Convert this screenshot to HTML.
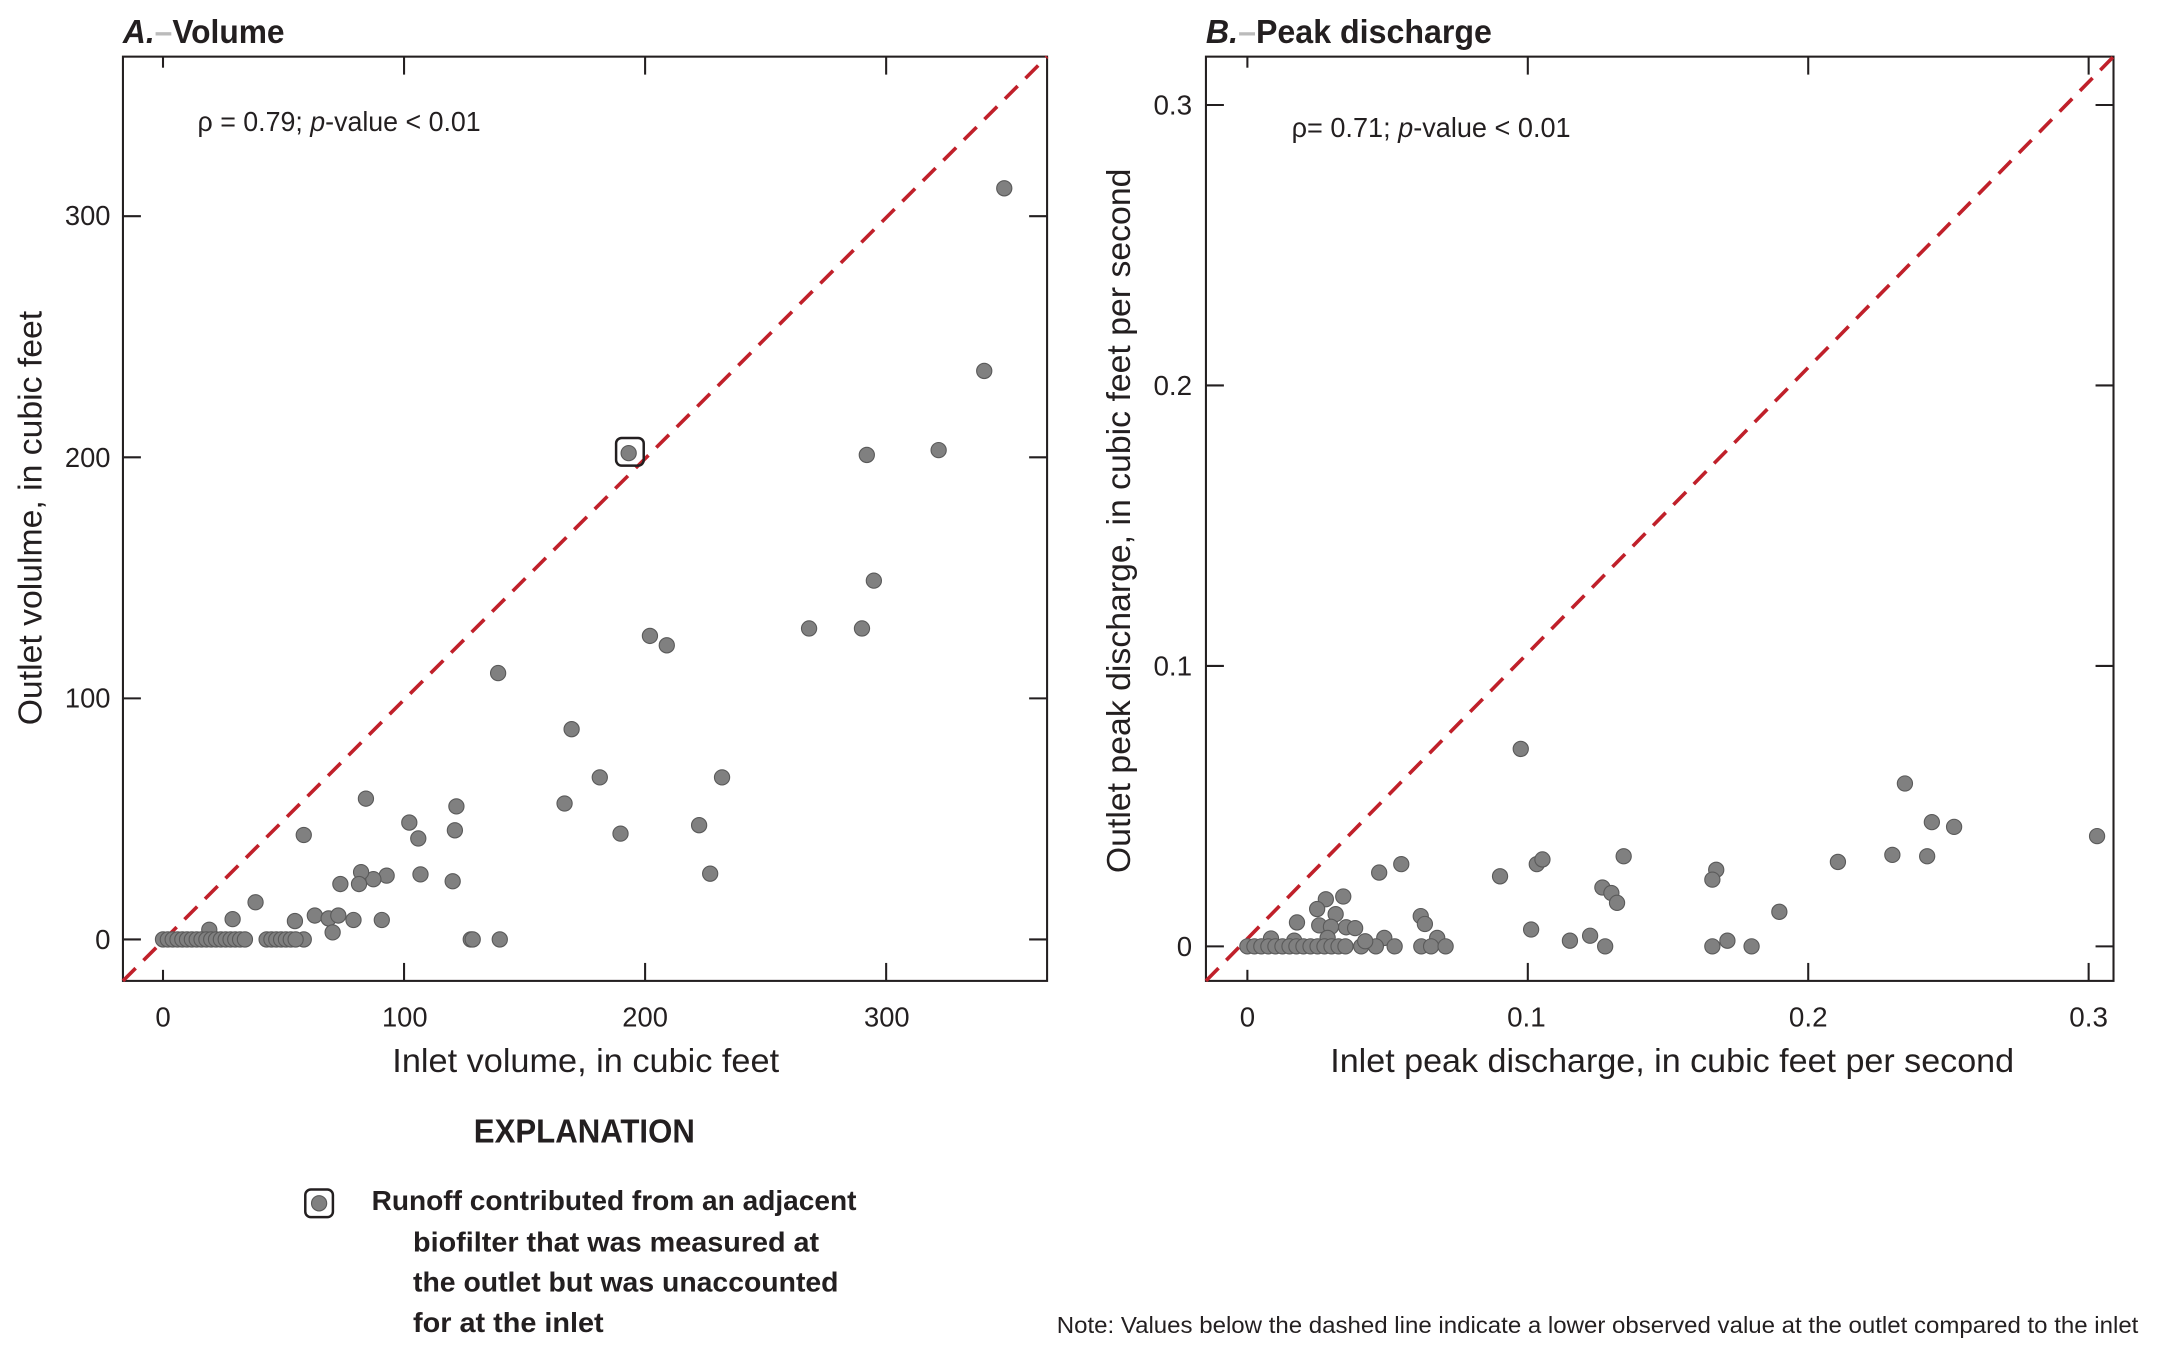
<!DOCTYPE html>
<html><head><meta charset="utf-8"><style>
html,body{margin:0;padding:0;background:#fff}
svg{display:block}
text{font-family:"Liberation Sans",sans-serif;fill:#231f20}
.t{font-size:20px}
.ax{font-size:24px}
.b{font-weight:bold}
</style></head><body>
<svg id="s" width="2166" height="1347" viewBox="0 0 1568 975" preserveAspectRatio="none" xmlns="http://www.w3.org/2000/svg">
<g fill="none" stroke="#231f20" stroke-width="1.5">
<rect x="89" y="41" width="669" height="669"/>
<rect x="873" y="41" width="657" height="669"/>
</g>
<g id="ticks" stroke="#231f20" stroke-width="1.5"></g>
<line x1="89" y1="710" x2="758" y2="41" stroke="#c0202a" stroke-width="2.6" stroke-dasharray="13,8"/>
<line x1="873" y1="710" x2="1530" y2="41" stroke="#c0202a" stroke-width="2.6" stroke-dasharray="13,8"/>
<g id="pts" fill="#808080" stroke="#5a5a5a" stroke-width="0.8"></g>
<rect x="446" y="317" width="20" height="20" rx="4" fill="none" stroke="#231f20" stroke-width="1.8"/>
<text x="89" y="31" class="ax b" textLength="117" lengthAdjust="spacingAndGlyphs"><tspan font-style="italic">A.</tspan><tspan fill="#bbb">–</tspan>Volume</text>
<text x="873" y="31" class="ax b" textLength="207" lengthAdjust="spacingAndGlyphs"><tspan font-style="italic">B.</tspan><tspan fill="#bbb">–</tspan>Peak discharge</text>
<text x="143" y="95" class="t" textLength="205" lengthAdjust="spacingAndGlyphs">ρ = 0.79; <tspan font-style="italic">p</tspan>-value &lt; 0.01</text>
<text x="935" y="99" class="t" textLength="202" lengthAdjust="spacingAndGlyphs">ρ= 0.71; <tspan font-style="italic">p</tspan>-value &lt; 0.01</text>
<g class="t" text-anchor="middle">
<text x="118" y="743">0</text><text x="293" y="743" textLength="33" lengthAdjust="spacingAndGlyphs">100</text><text x="467" y="743" textLength="33" lengthAdjust="spacingAndGlyphs">200</text><text x="642" y="743" textLength="33" lengthAdjust="spacingAndGlyphs">300</text>
<text x="903" y="743">0</text><text x="1105" y="743" textLength="28" lengthAdjust="spacingAndGlyphs">0.1</text><text x="1309" y="743" textLength="28" lengthAdjust="spacingAndGlyphs">0.2</text><text x="1512" y="743" textLength="28" lengthAdjust="spacingAndGlyphs">0.3</text>
</g>
<g class="t" text-anchor="end">
<text x="80" y="687">0</text><text x="80" y="512" textLength="33" lengthAdjust="spacingAndGlyphs">100</text><text x="80" y="338" textLength="33" lengthAdjust="spacingAndGlyphs">200</text><text x="80" y="163" textLength="33" lengthAdjust="spacingAndGlyphs">300</text>
<text x="863" y="692">0</text><text x="863" y="489" textLength="28" lengthAdjust="spacingAndGlyphs">0.1</text><text x="863" y="286" textLength="28" lengthAdjust="spacingAndGlyphs">0.2</text><text x="863" y="83" textLength="28" lengthAdjust="spacingAndGlyphs">0.3</text>
</g>
<text x="284" y="776" class="ax" textLength="280" lengthAdjust="spacingAndGlyphs">Inlet volume, in cubic feet</text>
<text x="963" y="776" class="ax" textLength="495" lengthAdjust="spacingAndGlyphs">Inlet peak discharge, in cubic feet per second</text>
<text transform="translate(30,525) rotate(-90)" class="ax" textLength="300" lengthAdjust="spacingAndGlyphs">Outlet volulme, in cubic feet</text>
<text transform="translate(818,632) rotate(-90)" class="ax" textLength="510" lengthAdjust="spacingAndGlyphs">Outlet peak discharge, in cubic feet per second</text>
<text x="423" y="827" class="ax b" text-anchor="middle" textLength="160" lengthAdjust="spacingAndGlyphs">EXPLANATION</text>
<rect x="221" y="861" width="20" height="20" rx="4" fill="none" stroke="#231f20" stroke-width="1.8"/>
<circle cx="231" cy="871" r="5.5" fill="#808080" stroke="#5a5a5a" stroke-width="0.8"/>
<g class="t b">
<text x="269" y="876" textLength="351" lengthAdjust="spacingAndGlyphs">Runoff contributed from an adjacent</text>
<text x="299" y="906" textLength="294" lengthAdjust="spacingAndGlyphs">biofilter that was measured at</text>
<text x="299" y="935" textLength="308" lengthAdjust="spacingAndGlyphs">the outlet but was unaccounted</text>
<text x="299" y="964" textLength="138" lengthAdjust="spacingAndGlyphs">for at the inlet</text>
</g>
<text x="765" y="965" style="font-size:17px" textLength="783" lengthAdjust="spacingAndGlyphs">Note: Values below the dashed line indicate a lower observed value at the outlet compared to the inlet</text>
</svg>
<script>
var NS="http://www.w3.org/2000/svg";
var T=document.getElementById("ticks"),P=document.getElementById("pts");
function ln(x1,y1,x2,y2){var l=document.createElementNS(NS,"line");l.setAttribute("x1",x1);l.setAttribute("y1",y1);l.setAttribute("x2",x2);l.setAttribute("y2",y2);T.appendChild(l);}
function ci(x,y){var c=document.createElementNS(NS,"circle");c.setAttribute("cx",x.toFixed(1));c.setAttribute("cy",y.toFixed(1));c.setAttribute("r",5.5);P.appendChild(c);}
var L=13;
[0,100,200,300].forEach(function(v){var x=118+v*1.745,y=680-v*1.745;var tl=v==0?8:L;
ln(x,710,x,710-tl);ln(x,41,x,41+tl);ln(89,y,89+L,y);ln(758,y,758-L,y);});
[0,0.1,0.2,0.3].forEach(function(v){var x=903+v*2030,y=685-v*2030;var tl=v==0?8:L;
ln(x,710,x,710-tl);ln(x,41,x,41+tl);ln(873,y,873+L,y);ln(1530,y,1530-L,y);});
var A=[[349,311.6],[340.7,235.8],[292,201],[321.8,203],[193.2,201.7],[294.9,148.8],[268,129],[290,129],[202,125.9],[209,122],[139,110.5],[169.5,87.2],[181.2,67.2],[231.9,67.2],[166.6,56.4],[121.7,55.2],[84.2,58.4],[222.4,47.4],[189.8,43.9],[58.4,43.3],[102.2,48.5],[105.9,41.9],[121.1,45.3],[227,27.3],[106.8,27],[120.2,24.1],[92.8,26.5],[87.3,25],[82.2,27.9],[81.3,23],[73.6,23],[38.4,15.4],[28.9,8.4],[54.7,7.6],[63,9.9],[68.7,8.7],[72.7,9.9],[79,8.1],[90.8,8.1],[70.4,2.9],[19.2,4],[127.7,0],[128.5,0],[139.7,0],[58.4,0]];
[0,2,4,6,8,10,12,14,16,18,20,22,24,26,28,30,32,34,43,45,47,49,51,53,55].forEach(function(v){A.push([v,0]);});
A.forEach(function(p){ci(118+p[0]*1.745,680-p[1]*1.745);});
var B=[[0.303,0.0393],[0.2345,0.0581],[0.2441,0.0443],[0.252,0.0426],[0.230,0.0326],[0.2424,0.0321],[0.2106,0.0301],[0.1897,0.0123],[0.1798,0],[0.1712,0.002],[0.1658,0],[0.1672,0.0273],[0.1658,0.0238],[0.1342,0.0321],[0.1266,0.021],[0.1298,0.019],[0.1318,0.0155],[0.1276,0],[0.1222,0.0038],[0.115,0.002],[0.1012,0.006],[0.0975,0.0704],[0.1032,0.0293],[0.1052,0.031],[0.0901,0.025],[0.0549,0.0293],[0.047,0.0263],[0.0618,0.0108],[0.0633,0.008],[0.0677,0.003],[0.062,0],[0.0655,0],[0.0707,0],[0.0488,0.003],[0.0525,0],[0.0458,0],[0.0406,0],[0.042,0.0018],[0.0342,0.0178],[0.028,0.0168],[0.0249,0.0133],[0.0315,0.0115],[0.0256,0.0075],[0.0298,0.007],[0.0352,0.0068],[0.0384,0.0065],[0.0177,0.0085],[0.0286,0.003],[0.0084,0.0028],[0.0167,0.002]];
for(var v=0;v<=0.036;v+=0.0025)B.push([v,0]);
B.forEach(function(p){ci(903+p[0]*2030,685-p[1]*2030);});
</script>
</body></html>
